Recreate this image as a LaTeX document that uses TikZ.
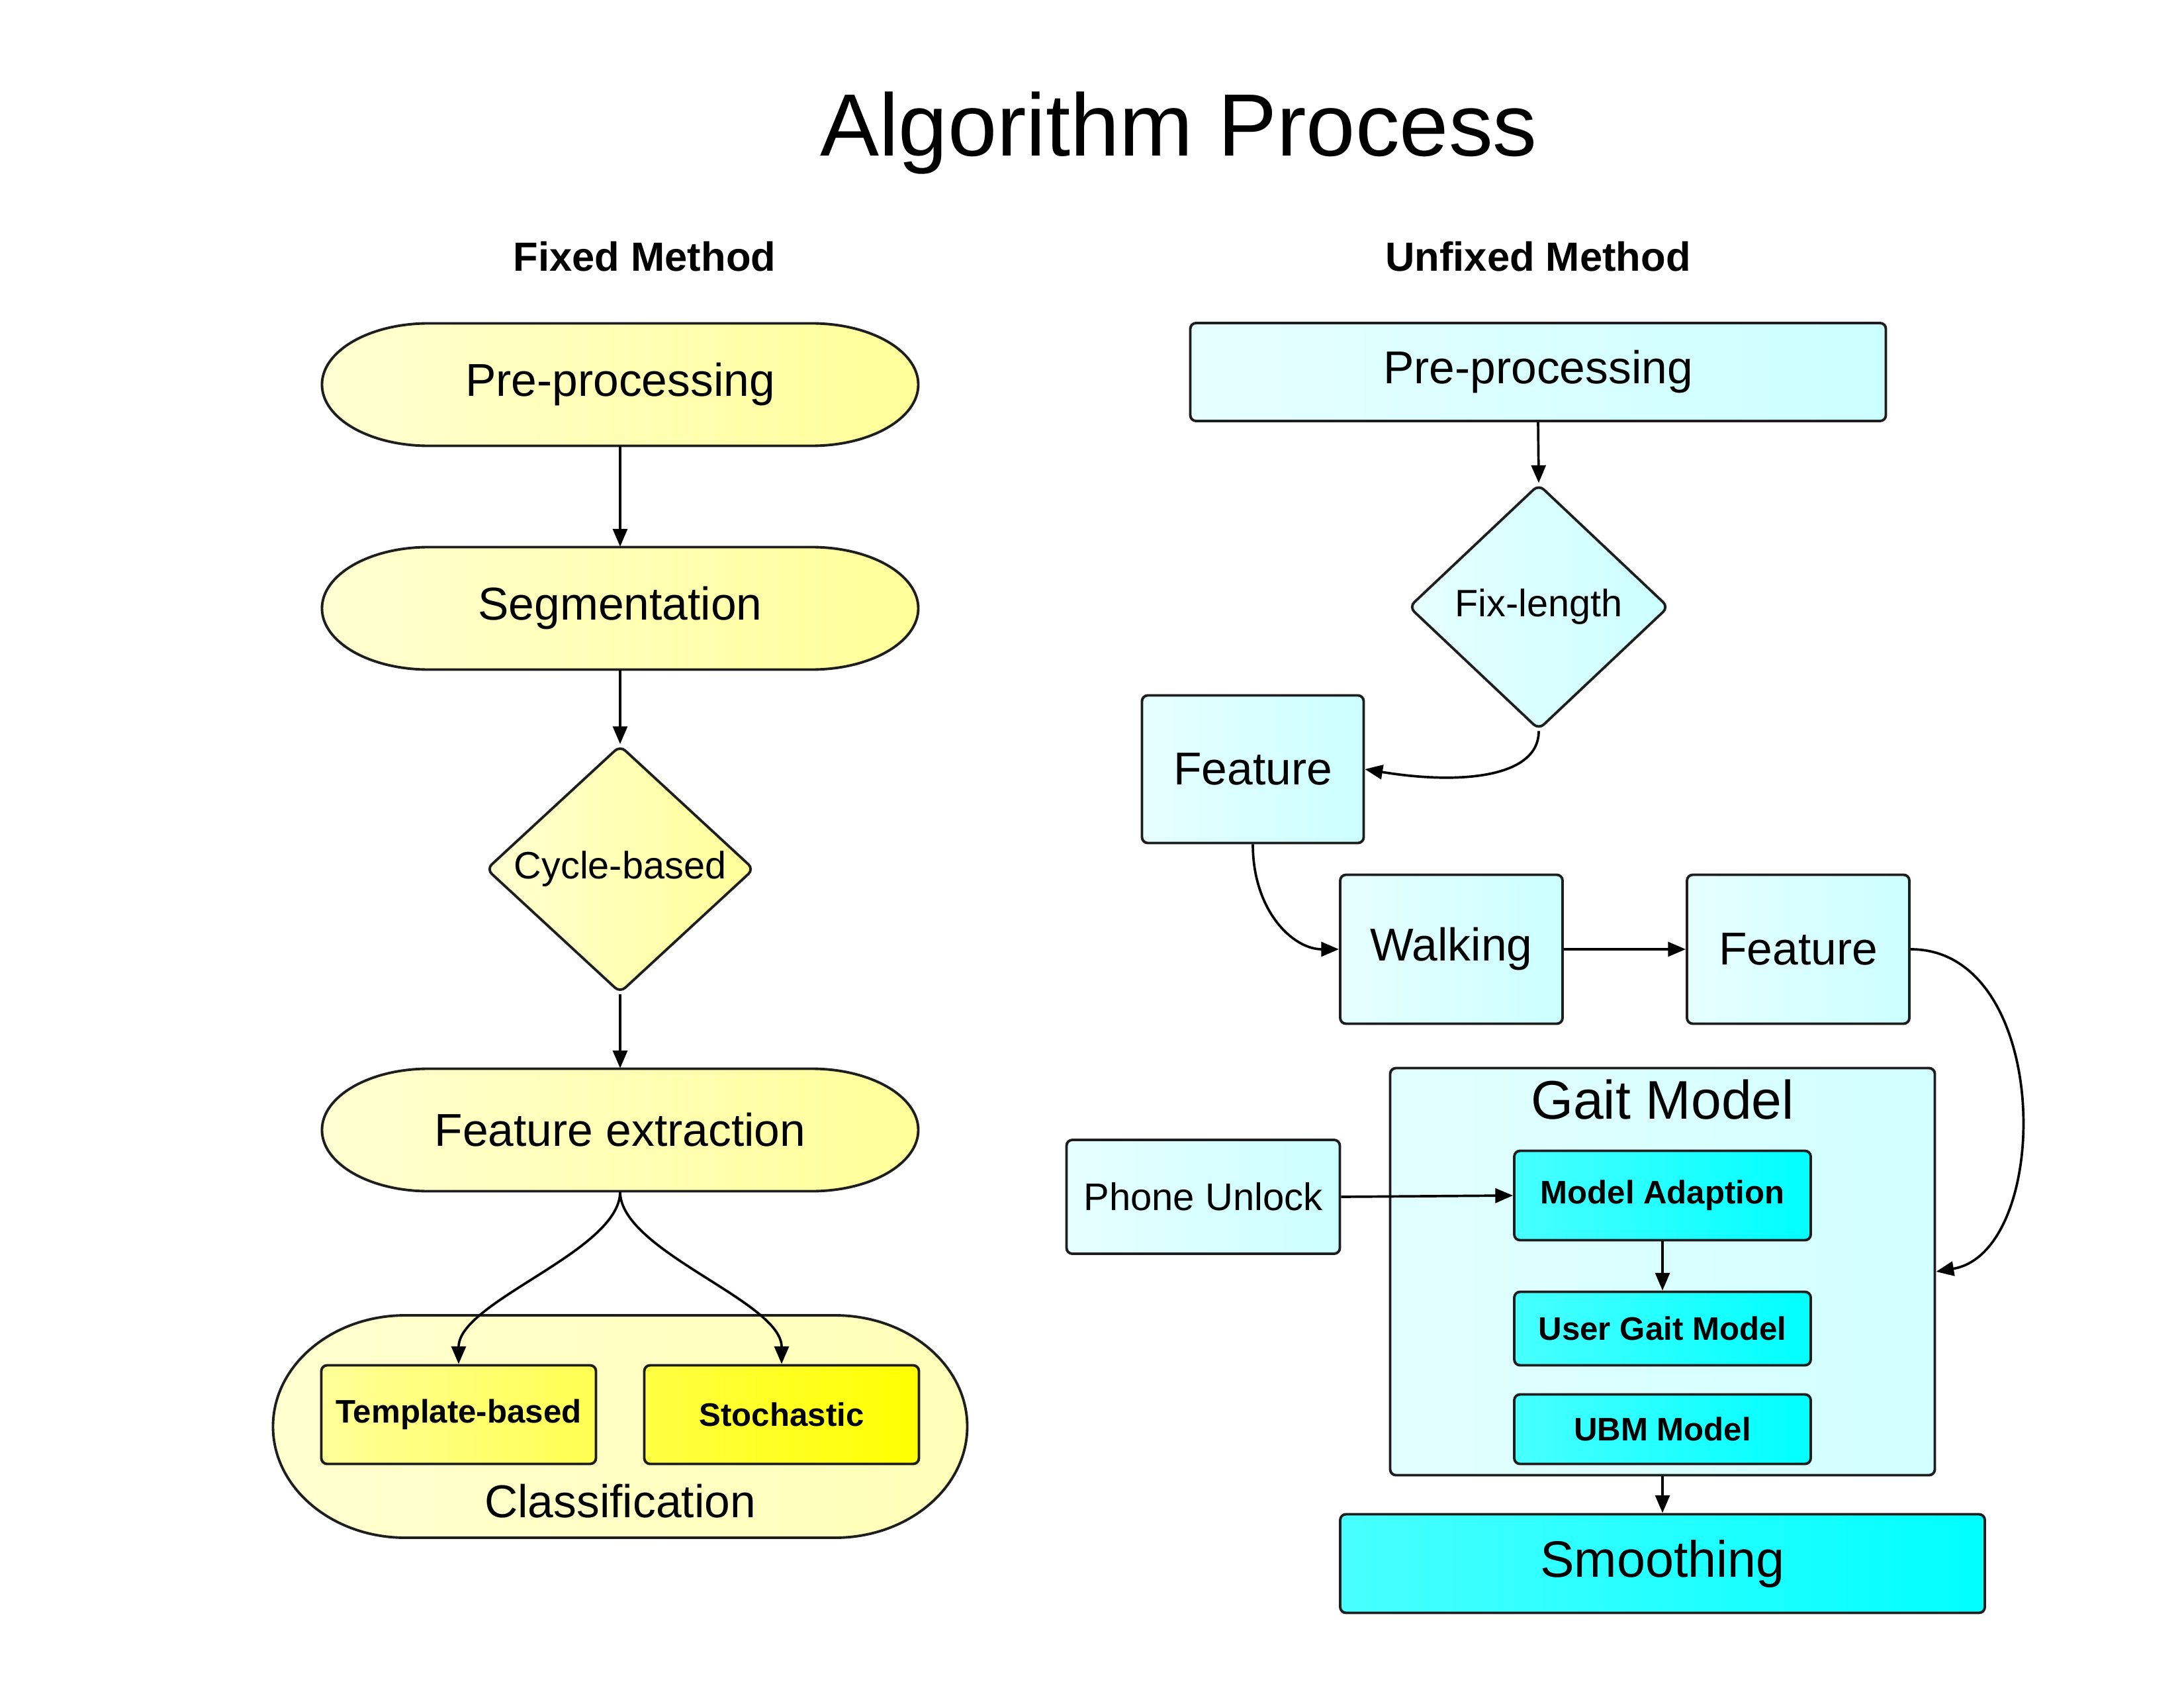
\documentclass[tikz,border=0pt]{standalone}
\usepackage{fontspec}
\setmainfont{Liberation Sans}
\usetikzlibrary{shapes.geometric,arrows.meta}
\definecolor{bordc}{HTML}{1E1E1E}
\definecolor{ylL}{HTML}{FFFFD2}
\definecolor{ylR}{HTML}{FFFF99}
\definecolor{clL}{HTML}{FFFFD0}
\definecolor{clR}{HTML}{FFFFB8}
\definecolor{tbL}{HTML}{FFFF99}
\definecolor{tbR}{HTML}{FFFF50}
\definecolor{stL}{HTML}{FFFF44}
\definecolor{stR}{HTML}{FFFF00}
\definecolor{cyL}{HTML}{E6FFFF}
\definecolor{cyR}{HTML}{CCFFFF}
\definecolor{gmL}{HTML}{E2FFFF}
\definecolor{gmR}{HTML}{D2FFFF}
\definecolor{bcL}{HTML}{48FFFF}
\definecolor{bcR}{HTML}{00FFFF}
\newcommand\mystad[8]{%
  \pgfmathsetmacro\sxl{#2-#4/2+#6}%
  \pgfmathsetmacro\sxr{#2+#4/2-#6}%
  \pgfmathsetmacro\syt{#3+#5/2}%
  \pgfmathsetmacro\syb{#3-#5/2}%
  \pgfmathsetmacro\syr{#5/2}%
  \shadedraw[#7] (\sxl,\syt) -- (\sxr,\syt) arc[start angle=90,end angle=-90,x radius=#6cm,y radius=\syr cm] -- (\sxl,\syb) arc[start angle=270,end angle=90,x radius=#6cm,y radius=\syr cm] -- cycle;%
  \node[minimum width=#4cm, minimum height=#5cm, inner sep=0pt, font=\fontsize{19.8}{22}\selectfont] (#1) at (#2,#3) {#8};%
}
\begin{document}
\begin{tikzpicture}[x=1cm,y=1cm,
  box/.style={draw=bordc, line width=1.1pt, rounded corners=2.5pt, inner sep=0pt, align=center},
  lcyan/.style={box, left color=cyL, right color=cyR},
  bcyan/.style={box, left color=bcL, right color=bcR},
  ystad/.style={draw=bordc, line width=1.1pt, left color=ylL, right color=ylR},
  cstad/.style={draw=bordc, line width=1.1pt, left color=clL, right color=clR},
  dia/.style={diamond, draw=bordc, line width=1.1pt, rounded corners=3pt, inner sep=0pt, font=\fontsize{16.4}{19}\selectfont},
  lbl/.style={font=\fontsize{19.8}{22}\selectfont},
  bld/.style={font=\fontsize{14}{16}\selectfont\bfseries},
  arr/.style={draw=black, line width=1.05pt, -{Triangle[length=7.6pt,width=6.2pt]}},
]
\useasboundingbox (0,0) rectangle (33,-25.5);

% titles
\node[anchor=base, font=\fontsize{38}{44}\selectfont] (title) at (17.81,-2.36) {Algorithm Process};
\node[anchor=base, font=\fontsize{17.5}{20}\selectfont\bfseries] (hfix) at (9.74,-4.10) {Fixed Method};
\node[anchor=base, font=\fontsize{17.5}{20}\selectfont\bfseries] (hunfix) at (23.24,-4.10) {Unfixed Method};

% ---------- left column ----------
\mystad{pre1}{9.37}{-5.81}{9.01}{1.85}{1.61}{ystad}{Pre-processing}
\mystad{seg}{9.37}{-9.19}{9.01}{1.85}{1.61}{ystad}{Segmentation}
\node[dia, left color=ylL, right color=ylR, minimum width=4.05cm, minimum height=3.70cm] (cyc) at (9.37,-13.13) {Cycle-based};
\mystad{fext}{9.37}{-17.07}{9.01}{1.85}{1.61}{ystad}{Feature extraction}
\mystad{cls}{9.37}{-21.55}{10.49}{3.36}{2.00}{cstad}{}
\node[anchor=base, lbl] (clslbl) at (9.37,-22.92) {Classification};
\node[box, left color=tbL, right color=tbR, minimum width=4.15cm, minimum height=1.49cm, bld] (tmpl) at (6.93,-21.37) {Template-based};
\node[box, left color=stL, right color=stR, minimum width=4.15cm, minimum height=1.49cm, bld] (stoch) at (11.81,-21.37) {Stochastic};

\draw[arr] (pre1.south) -- (seg.north);
\draw[arr] (seg.south) -- (cyc.north);
\draw[arr] (cyc.south) -- (fext.north);
\draw[arr] (fext.south) .. controls +(0,-0.9) and +(0,0.95) .. (tmpl.north);
\draw[arr] (fext.south) .. controls +(0,-0.9) and +(0,0.95) .. (stoch.north);

% ---------- right column ----------
\node[lcyan, minimum width=10.51cm, minimum height=1.48cm, lbl] (pre2) at (23.24,-5.62) {Pre-processing};
\node[dia, left color=cyL, right color=cyR, minimum width=3.93cm, minimum height=3.71cm] (fix) at (23.25,-9.17) {Fix-length};
\node[lcyan, minimum width=3.35cm, minimum height=2.23cm, lbl] (feat1) at (18.93,-11.62) {Feature};
\node[lcyan, minimum width=3.36cm, minimum height=2.25cm, lbl] (walk) at (21.93,-14.34) {Walking};
\node[lcyan, minimum width=3.36cm, minimum height=2.25cm, lbl] (feat2) at (27.17,-14.34) {Feature};
\node[box, left color=gmL, right color=gmR, minimum width=8.23cm, minimum height=6.15cm] (gait) at (25.12,-19.21) {};
\node[anchor=base, font=\fontsize{23.4}{27}\selectfont] (gaitlbl) at (25.12,-16.90) {Gait Model};
\node[bcyan, minimum width=4.48cm, minimum height=1.35cm, bld] (madapt) at (25.12,-18.06) {Model Adaption};
\node[bcyan, minimum width=4.48cm, minimum height=1.11cm, bld] (ugm) at (25.12,-20.07) {User Gait Model};
\node[bcyan, minimum width=4.48cm, minimum height=1.05cm, bld] (ubm) at (25.12,-21.59) {UBM Model};
\node[lcyan, minimum width=4.13cm, minimum height=1.72cm, font=\fontsize{16.5}{19}\selectfont] (phone) at (18.18,-18.08) {Phone Unlock};
\node[bcyan, minimum width=9.74cm, minimum height=1.49cm, font=\fontsize{22}{26}\selectfont] (smooth) at (25.12,-23.62) {Smoothing};

\draw[arr] (pre2.south) -- (fix.north);
\draw[arr] (fix.south) .. controls +(0,-0.72) and +(1.39,-0.23) .. (feat1.east);
\draw[arr] (feat1.south) .. controls +(0,-1.0) and +(-0.7,0) .. (walk.west);
\draw[arr] (walk.east) -- (feat2.west);
\draw[arr] (feat2.east) .. controls +(2.15,0) and +(1.77,0.3) .. (gait.east);
\draw[arr] (phone.east) -- (madapt.west);
\draw[arr] (madapt.south) -- (ugm.north);
\draw[arr] (gait.south) -- (smooth.north);
\end{tikzpicture}
\end{document}
